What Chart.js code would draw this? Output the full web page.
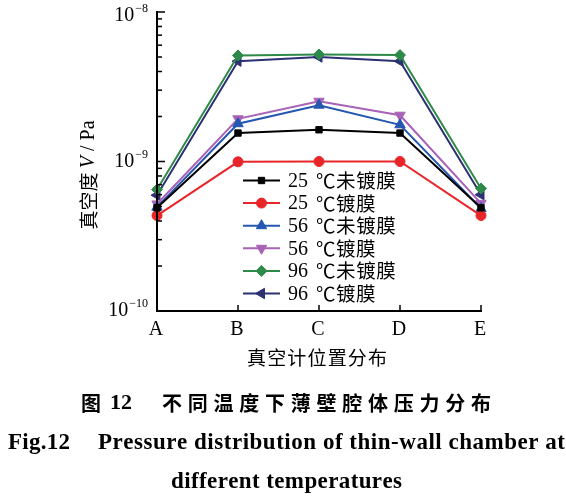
<!DOCTYPE html>
<html><head><meta charset="utf-8">
<script src="https://cdn.jsdelivr.net/npm/chart.js@4.4.1/dist/chart.umd.min.js"></script>
<style>html,body{margin:0;padding:0;background:#fff;overflow:hidden}</style>
</head><body>
<canvas id="c" width="566" height="501" style="width:566px;height:501px;display:block"></canvas>
<script>
// ---- data ----
const categories = ['A', 'B', 'C', 'D', 'E'];
const seriesTemps = ['25 ', '25 ', '56 ', '56 ', '96 ', '96 '];
const seriesKinds = ['℃未镀膜', '℃镀膜', '℃未镀膜', '℃镀膜', '℃未镀膜', '℃镀膜'];
const s25bare = [4.9e-10, 1.55e-9, 1.63e-9, 1.55e-9, 4.9e-10];
const s25coat = [4.35e-10, 9.95e-10, 1.0e-9, 1.0e-9, 4.35e-10];
const s56bare = [4.95e-10, 1.79e-9, 2.38e-9, 1.76e-9, 4.85e-10];
const s56coat = [5.2e-10, 1.93e-9, 2.53e-9, 2.04e-9, 5.25e-10];
const s96bare = [6.5e-10, 5.12e-9, 5.2e-9, 5.15e-9, 6.6e-10];
const s96coat = [5.95e-10, 4.69e-9, 5.0e-9, 4.69e-9, 6.0e-10];
const yTickExponents = [-10, -9, -8];
const yMinorMantissas = [2, 3, 4, 5, 6, 7, 8, 9];
const xTitle = '真空计位置分布';
const yTitleParts = ['真空度 ', 'V', ' / Pa'];
const caption1a = '图', caption1b = '12', caption1c = '不同温度下薄壁腔体压力分布';
const caption2a = 'Fig.12', caption2b = 'Pressure distribution of thin-wall chamber at';
const caption3 = 'different temperatures';

// ---- styles ----
const colors = ['#000000', '#e8262a', '#2457b0', '#a862b6', '#2e8a48', '#2c3173'];
const pStyles = [
  {pointStyle: 'rect', radius: 4.5, rotation: 0},
  {pointStyle: 'circle', radius: 5, rotation: 0},
  {pointStyle: 'triangle', radius: 6, rotation: 0},
  {pointStyle: 'triangle', radius: 6, rotation: 180},
  {pointStyle: 'rectRot', radius: 5.5, rotation: 0},
  {pointStyle: 'triangle', radius: 6, rotation: -90}
];
const allSeries = [s25bare, s25coat, s56bare, s56coat, s96bare, s96coat];

const datasets = allSeries.map((d, i) => ({
  label: seriesTemps[i] + seriesKinds[i],
  data: d,
  borderColor: colors[i],
  backgroundColor: colors[i],
  borderWidth: 2,
  pointStyle: pStyles[i].pointStyle,
  pointRadius: pStyles[i].radius,
  pointRotation: pStyles[i].rotation,
  pointBorderWidth: 1,
  pointBackgroundColor: colors[i],
  pointBorderColor: colors[i],
  tension: 0,
  clip: false
}));

const SERIF = "'Liberation Serif', 'Times New Roman', serif";
const CJK = "'Noto Sans CJK SC', sans-serif";

function drawSpaced(ctx, text, x0, x1, y) {
  const chars = Array.from(text);
  const widths = chars.map(c => ctx.measureText(c).width);
  const W = widths.reduce((a, b) => a + b, 0);
  const sp = chars.length > 1 ? (x1 - x0 - W) / (chars.length - 1) : 0;
  let x = x0;
  ctx.textAlign = 'left';
  chars.forEach((c, i) => { ctx.fillText(c, x, y); x += widths[i] + sp; });
}

const decor = {
  id: 'decor',
  afterDraw(chart) {
    const ctx = chart.ctx;
    const xs = chart.scales.x, ys = chart.scales.y;
    const L = chart.chartArea.left, R = chart.chartArea.right;
    const T = chart.chartArea.top, B = chart.chartArea.bottom;
    ctx.save();
    ctx.strokeStyle = '#000';
    ctx.fillStyle = '#000';
    // axes
    ctx.lineWidth = 2;
    ctx.beginPath();
    ctx.moveTo(L, T - 1); ctx.lineTo(L, B); ctx.lineTo(R + 1, B);
    ctx.stroke();
    // y ticks
    ctx.lineWidth = 1.5;
    yTickExponents.forEach((e, k) => {
      const y = ys.getPixelForValue(Math.pow(10, e));
      ctx.beginPath(); ctx.moveTo(L, y); ctx.lineTo(L + 8, y); ctx.stroke();
      if (k < yTickExponents.length - 1) {
        yMinorMantissas.forEach(m => {
          const yy = ys.getPixelForValue(m * Math.pow(10, e));
          ctx.beginPath(); ctx.moveTo(L, yy); ctx.lineTo(L + 5, yy); ctx.stroke();
        });
      }
      // labels
      ctx.textBaseline = 'middle';
      ctx.font = '12px ' + SERIF;
      const sup = '\u2212' + Math.abs(e);
      const supW = ctx.measureText(sup).width;
      const ly = (k === yTickExponents.length - 1) ? y + 4 : y;
      ctx.textAlign = 'right';
      ctx.fillText(sup, 148, ly - 7);
      ctx.font = '20px ' + SERIF;
      ctx.fillText('10', 148 - supW - 1, ly);
    });
    // x ticks and labels
    categories.forEach((c, i) => {
      const x = xs.getPixelForValue(i);
      if (i > 0) {
        ctx.beginPath(); ctx.moveTo(x, B); ctx.lineTo(x, B - 6); ctx.stroke();
      }
      ctx.font = '20px ' + SERIF;
      ctx.textAlign = 'center';
      ctx.textBaseline = 'middle';
      ctx.fillText(c, x - 1, 330);
    });
    // x title
    ctx.font = '19px ' + CJK;
    ctx.textBaseline = 'middle';
    drawSpaced(ctx, xTitle, 247, 387, 358);
    // y title
    ctx.save();
    ctx.translate(89, 175);
    ctx.rotate(-Math.PI / 2);
    const fonts = ['19px ' + CJK, 'italic 20px ' + SERIF, '20px ' + SERIF];
    let tw = 0;
    const ws = yTitleParts.map((p, i) => { ctx.font = fonts[i]; const w = ctx.measureText(p).width; tw += w; return w; });
    let tx = -tw / 2;
    ctx.textAlign = 'left';
    ctx.textBaseline = 'middle';
    yTitleParts.forEach((p, i) => { ctx.font = fonts[i]; ctx.fillText(p, tx, 0); tx += ws[i]; });
    ctx.restore();
    // legend
    const ly0 = 180.5, ldy = 22.6;
    datasets.forEach((d, i) => {
      const y = ly0 + i * ldy;
      ctx.strokeStyle = d.borderColor;
      ctx.fillStyle = d.borderColor;
      ctx.lineWidth = 2;
      ctx.beginPath(); ctx.moveTo(243, y); ctx.lineTo(280, y); ctx.stroke();
      ctx.lineWidth = 1;
      Chart.helpers.drawPoint(ctx, {pointStyle: d.pointStyle, radius: d.pointRadius, rotation: d.pointRotation, borderWidth: 1}, 261.5, y);
      ctx.fillStyle = '#000';
      ctx.textAlign = 'left';
      ctx.textBaseline = 'middle';
      ctx.font = '20px ' + SERIF;
      ctx.fillText(seriesTemps[i], 288, y + 1);
      ctx.font = '19.5px ' + CJK;
      drawSpaced(ctx, seriesKinds[i], 316, 316 + (Array.from(seriesKinds[i]).length) * 20.2 - 1, y);
    });
    // captions
    ctx.fillStyle = '#000';
    ctx.textBaseline = 'middle';
    ctx.textAlign = 'left';
    ctx.font = 'bold 20px ' + CJK;
    ctx.fillText(caption1a, 81, 403);
    ctx.font = 'bold 22px ' + SERIF;
    ctx.fillText(caption1b, 110, 403);
    ctx.font = 'bold 20px ' + CJK;
    drawSpaced(ctx, caption1c, 162, 491, 403);
    ctx.font = 'bold 23px ' + SERIF;
    drawSpaced(ctx, caption2a, 8, 70, 443);
    drawSpaced(ctx, caption2b, 98, 565, 443);
    drawSpaced(ctx, caption3, 171, 402, 482);
    ctx.restore();
  }
};

new Chart(document.getElementById('c'), {
  type: 'line',
  data: {labels: categories, datasets: datasets},
  options: {
    responsive: false,
    animation: false,
    layout: {padding: {left: 157, right: 85, top: 12, bottom: 190}},
    plugins: {legend: {display: false}, tooltip: {enabled: false}},
    scales: {
      x: {type: 'category', display: false, offset: false},
      y: {type: 'logarithmic', display: false, min: 1e-10, max: 1e-8}
    }
  },
  plugins: [decor]
});
</script>
</body></html>
